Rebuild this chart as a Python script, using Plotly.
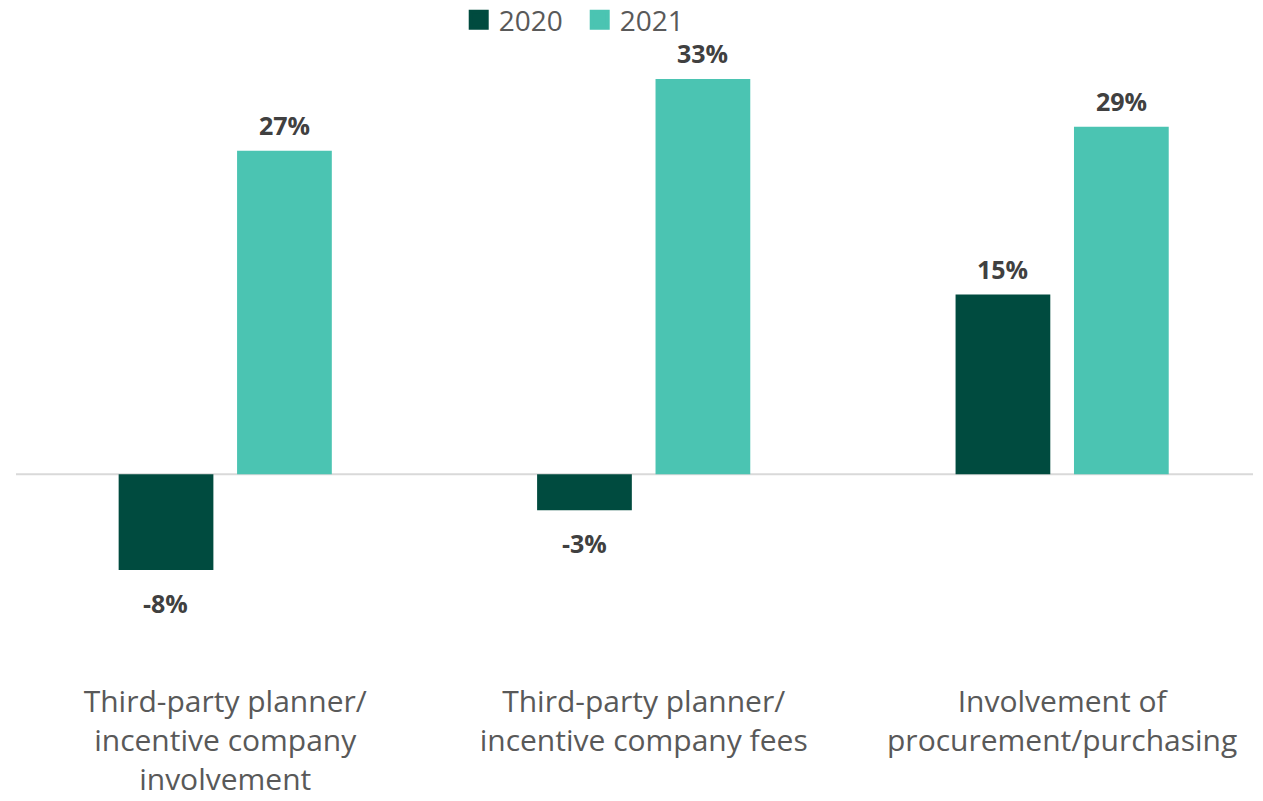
import plotly.graph_objects as go

categories = [
    "Third-party planner/<br>incentive company<br>involvement",
    "Third-party planner/<br>incentive company fees",
    "Involvement of<br>procurement/purchasing",
]
series_names = ["2020", "2021"]
values_2020 = [-8, -3, 15]
values_2021 = [27, 33, 29]
colors = ["#004B3F", "#4BC4B2"]

fig = go.Figure()
for name, vals, col in zip(series_names, [values_2020, values_2021], colors):
    fig.add_trace(go.Bar(
        x=categories, y=vals, name=name, showlegend=False,
        marker=dict(color=col, line=dict(width=0)),
    ))

# legend entries with larger square swatches
for name, col in zip(series_names, colors):
    fig.add_trace(go.Scatter(
        x=[None], y=[None], mode="markers", name=name,
        marker=dict(symbol="square", size=16, color=col,
                    line=dict(color=col, width=4)),
    ))

# value labels above positive bars, below negative bars
slot_px = 118.5
for i, (name, vals) in enumerate(zip(series_names, [values_2020, values_2021])):
    offset = (i - 0.5) * slot_px
    for cat, v in zip(categories, vals):
        fig.add_annotation(
            x=cat, y=v, xref="x", yref="y",
            text=f"<b>{v}%</b>", showarrow=False,
            xshift=offset, yshift=26 if v >= 0 else -33,
            yanchor="middle",
            font=dict(family="Open Sans", size=25, color="#404040"),
        )

# zero baseline
fig.add_shape(type="line", xref="paper", yref="y", x0=0, x1=0.992, y0=0, y1=0,
              line=dict(color="#D9D9D9", width=2), layer="below")

fig.update_layout(
    width=1263, height=801,
    margin=dict(l=16, r=0, t=42.5, b=158.5, autoexpand=False),
    plot_bgcolor="white", paper_bgcolor="white",
    barmode="group", bargap=0.434, bargroupgap=0.2,
    font=dict(family="Open Sans", color="#595959"),
    showlegend=True,
    legend=dict(
        orientation="h", xref="container", yref="container",
        x=0.459, xanchor="center", y=0.975, yanchor="middle",
        font=dict(size=28, color="#595959"),
        itemwidth=30, traceorder="normal",
        entrywidth=76, entrywidthmode="pixels",
    ),
    xaxis=dict(
        range=[-0.5, 2.48], showgrid=False, zeroline=False, showline=False,
        ticks="", tickfont=dict(size=30, color="#595959"),
        ticklabelstandoff=39, automargin=False,
    ),
    yaxis=dict(
        range=[-14, 36], showgrid=False, zeroline=False, showline=False,
        showticklabels=False, ticks="", automargin=False,
    ),
)

fig.write_html("out.html")
